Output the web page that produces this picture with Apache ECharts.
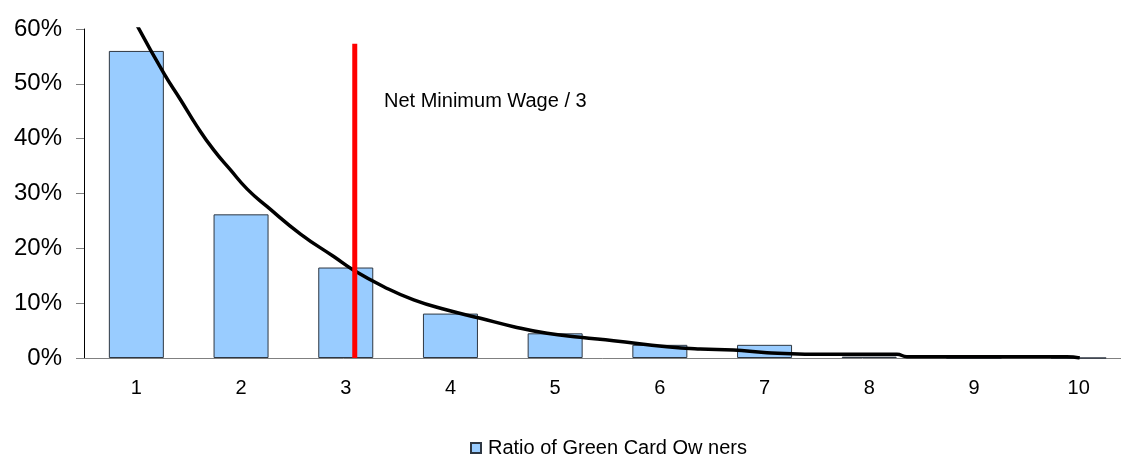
<!DOCTYPE html>
<html>
<head>
<meta charset="utf-8">
<script src="https://cdn.jsdelivr.net/npm/echarts@6/dist/echarts.min.js"></script>
<style>
  html, body { margin: 0; padding: 0; background: #fff; }
  #chart { width: 1121px; height: 457px; }
</style>
</head>
<body>
<div id="chart"></div>
<script>
// Categories on the horizontal axis
const categories = ['1', '2', '3', '4', '5', '6', '7', '8', '9', '10'];

// Share of green card owners per category (%)
const ratioValues = [56.0, 26.2, 16.5, 8.1, 4.5, 2.4, 2.4, 0.25, 0, 0];

// Fitted decay curve: [position on category scale, %]
const curveX = [1.00, 1.263, 1.422, 1.581, 1.740, 1.899, 2.059, 2.250, 2.568, 2.885,
                3.076, 3.363, 3.649, 3.968, 4.286, 4.604, 4.923, 5.241, 5.558, 6.068,
                6.386, 6.704, 7.023, 7.659, 8.264, 8.360, 9.887, 10.01];
const curveY = [60.9, 51.9, 47.1, 42.2, 37.9, 34.3, 30.8, 27.6, 22.6, 18.5,
                16.0, 13.0, 10.6, 8.75, 7.24, 5.71, 4.50, 3.78, 3.16, 2.06,
                1.64, 1.46, 0.97, 0.67, 0.67, 0.24, 0.24, 0.0];

// Threshold marker: Net Minimum Wage / 3
const thresholdX = 3.086;
const thresholdTop = 57.3;
const thresholdLabel = 'Net Minimum Wage / 3';

// Y-axis ticks
const yMin = 0, yMax = 60, yStep = 10;

const seriesName = 'Ratio of Green Card Ow ners';

const curveData = curveX.map((x, i) => [x, curveY[i]]);
const thresholdData = [[thresholdX, 0], [thresholdX, thresholdTop]];

const chart = echarts.init(document.getElementById('chart'), null, { renderer: 'canvas' });

chart.setOption({
  animation: false,
  backgroundColor: '#ffffff',
  textStyle: { fontFamily: 'Liberation Sans, Arial, sans-serif' },
  grid: {
    left: 84, top: 29, width: 1047, bottom: 99,
    containLabel: false,
    outerBoundsMode: 'none'
  },
  xAxis: [
    {
      type: 'category',
      data: categories,
      boundaryGap: true,
      axisLine: { lineStyle: { color: '#808080', width: 1 } },
      axisTick: { show: false },
      axisLabel: { color: '#000', fontSize: 20, margin: 20 },
      splitLine: { show: false }
    },
    {
      type: 'value',
      min: 0.5,
      max: 10.5,
      show: false
    }
  ],
  yAxis: {
    type: 'value',
    min: yMin,
    max: yMax,
    interval: yStep,
    axisLine: { show: true, lineStyle: { color: '#000', width: 1 } },
    axisTick: { show: true, inside: false, length: 8, lineStyle: { color: '#808080' } },
    axisLabel: { color: '#000', fontSize: 24, margin: 22, formatter: '{value}%' },
    splitLine: { show: false }
  },
  legend: {
    data: [{ name: seriesName, icon: 'rect' }],
    left: 465,
    top: 433,
    itemWidth: 10,
    itemHeight: 10,
    itemGap: 12,
    textStyle: { color: '#000', fontSize: 20, padding: [0, 0, 0, 2] }
  },
  series: [
    {
      name: seriesName,
      type: 'bar',
      xAxisIndex: 0,
      data: ratioValues,
      barWidth: 55,
      itemStyle: { color: '#99CCFF', borderColor: '#2e3742', borderWidth: 1 },
      z: 2
    },
    {
      name: 'curve',
      type: 'line',
      xAxisIndex: 1,
      data: curveData,
      smooth: 0.5,
      symbol: 'none',
      clip: true,
      lineStyle: { color: '#000', width: 3.5 },
      z: 3
    },
    {
      name: 'threshold',
      type: 'line',
      xAxisIndex: 1,
      data: thresholdData,
      symbol: 'none',
      lineStyle: { color: '#ff0000', width: 5 },
      z: 4
    }
  ],
  graphic: [
    {
      type: 'text',
      left: 384,
      top: 91,
      style: {
        text: thresholdLabel,
        fill: '#000',
        font: '20px "Liberation Sans", Arial, sans-serif'
      }
    }
  ]
});
</script>
</body>
</html>
